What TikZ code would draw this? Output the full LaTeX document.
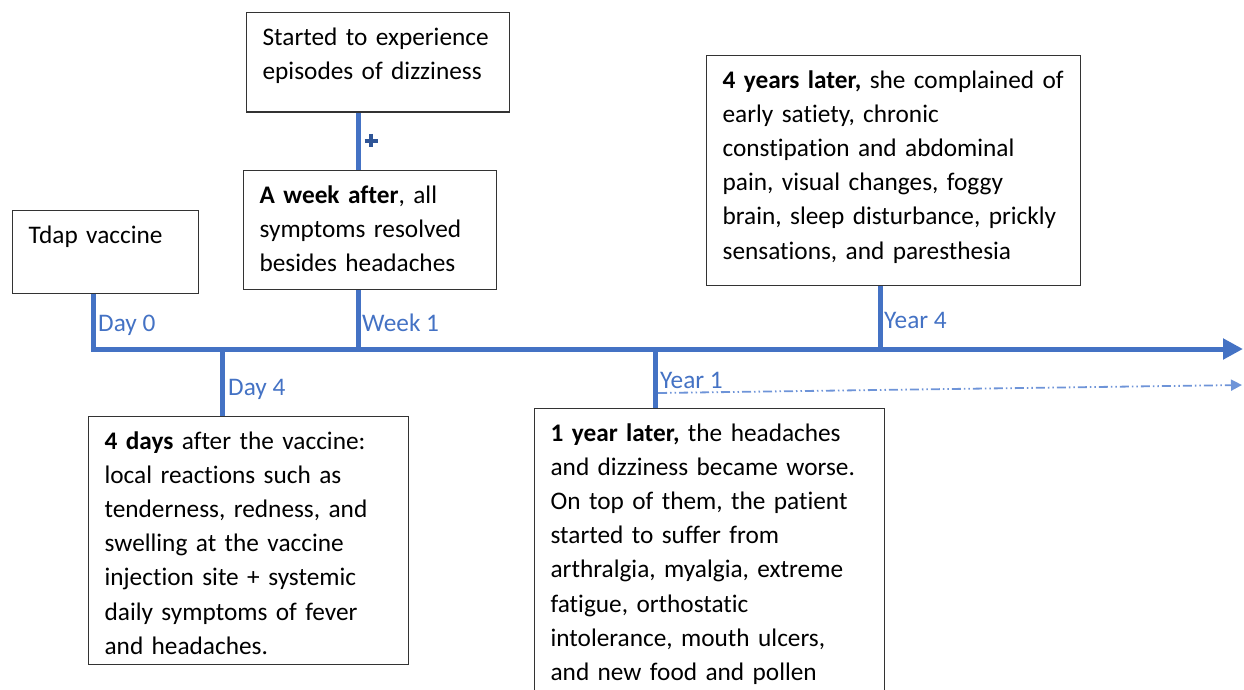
\documentclass[tikz,border=0pt]{standalone}
\usepackage{fontspec}
\setmainfont{Carlito}[Ligatures=NoCommon]
\usetikzlibrary{arrows.meta}
\definecolor{tlblue}{HTML}{4472C4}
\definecolor{dashblue}{HTML}{6E94D8}
\definecolor{plusblue}{HTML}{2F5597}
\tikzset{
  event/.style={draw=black!80, line width=1.2pt, anchor=north west, align=left,
    inner xsep=16pt, inner ysep=0pt, text height=32.5pt,
    font=\fontsize{25.3}{34.2}\selectfont},
  tl/.style={draw=tlblue, line width=5pt},
  ticklabel/.style={anchor=base west, inner sep=0pt, text=tlblue,
    font=\fontsize{25.3}{34}\selectfont},
}
\begin{document}
\begin{tikzpicture}[x=1pt,y=-1pt]
\path[use as bounding box] (0,0) rectangle (1244,690);
\clip (0,0) rectangle (1244,690);
% event boxes
\node[event, text width=154pt, text depth=50pt] (tdap) at (12,210) {Tdap vaccine};
\node[event, text width=231pt, text depth=67pt] (dizzy) at (246,12)
  {Started to experience\\episodes of dizziness};
\node[event, text width=221pt, text depth=86pt] (week) at (243,170)
  {\textbf{A week after}, all\\symptoms resolved\\besides headaches};
\node[event, text width=342pt, text depth=197pt] (year4) at (706,55)
  {\mbox{\textbf{4 years later,} she complained of}\\early satiety, chronic\\constipation and abdominal\\pain, visual changes, foggy\\brain, sleep disturbance, prickly\\sensations, and paresthesia};
\node[event, text width=288pt, text depth=215pt] (day4) at (88,416)
  {\textbf{4 days} after the vaccine:\\local reactions such as\\tenderness, redness, and\\swelling at the vaccine\\injection site + systemic\\daily symptoms of fever\\and headaches.};
\node[event, text width=318pt, text depth=260pt] (year1) at (534,408)
  {\textbf{1 year later,} the headaches\\and dizziness became worse.\\On top of them, the patient\\started to suffer from\\arthralgia, myalgia, extreme\\fatigue, orthostatic\\intolerance, mouth ulcers,\\and new food and pollen};
% time axis
\coordinate (d0) at (93,349);
\coordinate (d4) at (222,349);
\coordinate (w1) at (358,349);
\coordinate (y1) at (655,349);
\coordinate (y4) at (880,349);
\coordinate (tend) at (1243,349);
\draw[tl, line join=miter, -{Triangle[length=20pt,width=20pt]}] (tdap.south -| d0) -- (d0) -- (tend);
\draw[tl] (d4) -- (day4.north -| d4);
\draw[tl] (w1) -- (week.south -| w1);
\draw[tl] (week.north -| w1) -- (dizzy.south -| w1);
\draw[tl] (y1) -- (year1.north -| y1);
\draw[tl] (y4) -- (year4.south -| y4);
% tick labels
\node[ticklabel] (lday0) at (98,331.5) {Day 0};
\node[ticklabel] (lweek1) at (362,331) {Week 1};
\node[ticklabel] (lday4) at (228,395) {Day 4};
\node[ticklabel] (lyear1) at (660,388) {Year 1};
\node[ticklabel] (lyear4) at (884,328) {Year 4};
% dash-dot continuation
\coordinate (dstart) at (658,393);
\coordinate (dend) at (1242,385);
\draw[dashblue, line width=1.8pt, dash pattern=on 9pt off 3pt on 1.5pt off 3pt on 1.5pt off 3pt,
  -{Triangle[length=11pt,width=11pt]}] (dstart) -- (dend);
% small cross
\draw[plusblue, line width=4pt] (364.5,140.5) -- (377.5,140.5) (371,134) -- (371,147);
\end{tikzpicture}
\end{document}
